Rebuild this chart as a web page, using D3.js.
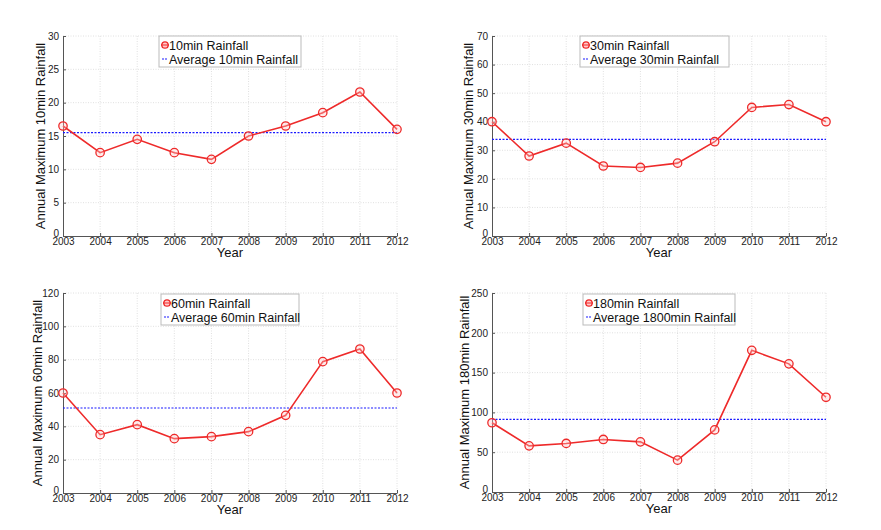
<!DOCTYPE html>
<html>
<head>
<meta charset="utf-8">
<script src="https://cdn.jsdelivr.net/npm/d3@7"></script>
<style>
  html, body { margin: 0; padding: 0; background: #fff; }
  svg { display: block; font-family: "Liberation Sans", Arial, sans-serif; }
</style>
</head>
<body>
<svg id="chart" width="881" height="530"></svg>
<script>
// ---- data ----
const years = [2003, 2004, 2005, 2006, 2007, 2008, 2009, 2010, 2011, 2012];
const rain10 = [16.5, 12.5, 14.5, 12.5, 11.5, 15.0, 16.5, 18.5, 21.6, 16.0];
const rain30 = [40, 28, 32.5, 24.5, 24, 25.5, 33, 45, 46, 40];
const rain60 = [60, 35, 41, 32.6, 33.8, 36.8, 46.6, 78.8, 86.4, 60];
const rain180 = [87, 58, 61, 66, 63, 40, 78, 178, 161, 119];
const averages = [15.5, 33.8, 51, 91.3];
const yMaxes = [30, 70, 120, 250];
const yTickSteps = [5, 10, 20, 50];
const seriesNames = ["10min Rainfall", "30min Rainfall", "60min Rainfall", "180min Rainfall"];
const avgNames = ["Average 10min Rainfall", "Average 30min Rainfall", "Average 60min Rainfall", "Average 1800min Rainfall"];
const yLabels = ["Annual Maximum 10min Rainfall", "Annual Maximum 30min Rainfall", "Annual Maximum 60min Rainfall", "Annual Maximum 180min Rainfall"];
const xLabel = "Year";
const allSeries = [rain10, rain30, rain60, rain180];

// ---- layout ----
const panels = [
  { left: 63,  right: 397, top: 36,  bottom: 236, ylabX: 45,  leg: [159, 36, 142, 31] },
  { left: 492, right: 826, top: 36,  bottom: 236, ylabX: 473, leg: [580, 36, 149, 31] },
  { left: 63,  right: 397, top: 293, bottom: 493, ylabX: 42,  leg: [161, 294, 138, 31] },
  { left: 492, right: 826, top: 293, bottom: 492, ylabX: 469, leg: [583, 294, 152, 31] }
];

const svg = d3.select("#chart");
const red = "#ee2a2a";
const blue = "#1a1aff";

panels.forEach((p, i) => {
  const g = svg.append("g");
  const x = d3.scaleLinear().domain([years[0], years[years.length - 1]]).range([p.left, p.right]);
  const y = d3.scaleLinear().domain([0, yMaxes[i]]).range([p.bottom, p.top]);
  const yTicks = d3.range(0, yMaxes[i] + 0.001, yTickSteps[i]);

  // grid
  g.append("g").selectAll("line.vg").data(years.slice(1)).join("line")
    .attr("x1", d => x(d)).attr("x2", d => x(d))
    .attr("y1", p.top).attr("y2", p.bottom)
    .attr("stroke", "#d8d8d8").attr("stroke-width", 0.8).attr("stroke-dasharray", "1,1.5");
  g.append("g").selectAll("line.hg").data(yTicks.slice(1)).join("line")
    .attr("x1", p.left).attr("x2", p.right)
    .attr("y1", d => y(d)).attr("y2", d => y(d))
    .attr("stroke", "#d8d8d8").attr("stroke-width", 0.8).attr("stroke-dasharray", "1,1.5");

  // axes
  const xAxis = d3.axisBottom(x).tickValues(years).tickFormat(d3.format("d")).tickSizeInner(-3).tickSizeOuter(0).tickPadding(2);
  const gx = g.append("g").attr("transform", `translate(0,${p.bottom})`).call(xAxis);
  const yAxis = d3.axisLeft(y).tickValues(yTicks).tickFormat(d3.format("d")).tickSizeInner(-3).tickSizeOuter(0).tickPadding(4);
  const gy = g.append("g").attr("transform", `translate(${p.left},0)`).call(yAxis);
  [gx, gy].forEach(a => {
    a.select(".domain").attr("stroke", "#555").attr("stroke-width", 1);
    a.selectAll(".tick line").attr("stroke", "#555");
    a.selectAll(".tick text").attr("fill", "#222").style("font-size", "10px").style("font-family", "'Liberation Sans', Arial, sans-serif");
  });
  // zero label sits slightly above the x axis, as in the reference
  gy.selectAll(".tick").filter(d => d === 0).select("text").attr("dy", "0.05em");

  // axis labels
  g.append("text").attr("x", (p.left + p.right) / 2).attr("y", p.bottom + 21)
    .attr("text-anchor", "middle").attr("font-size", "13px").attr("fill", "#111").text(xLabel);
  g.append("text")
    .attr("transform", `translate(${p.ylabX},${(p.top + p.bottom) / 2}) rotate(-90)`)
    .attr("text-anchor", "middle").attr("font-size", "13px").attr("fill", "#111").text(yLabels[i]);

  // average line
  g.append("line")
    .attr("x1", x(years[0])).attr("x2", x(years[years.length - 1]))
    .attr("y1", y(averages[i])).attr("y2", y(averages[i]))
    .attr("stroke", blue).attr("stroke-width", 1.2).attr("stroke-dasharray", "2,1.5");

  // series line
  const data = years.map((yr, k) => [yr, allSeries[i][k]]);
  g.append("path").datum(data)
    .attr("d", d3.line().x(d => x(d[0])).y(d => y(d[1])))
    .attr("fill", "none").attr("stroke", red).attr("stroke-width", 1.6);
  g.append("g").selectAll("circle").data(data).join("circle")
    .attr("cx", d => x(d[0])).attr("cy", d => y(d[1])).attr("r", 4.2)
    .attr("fill", "rgba(255,200,200,0.35)").attr("stroke", red).attr("stroke-width", 1.3);

  // legend
  const [lx, ly, lw, lh] = p.leg;
  const lg = g.append("g");
  lg.append("rect").attr("x", lx).attr("y", ly).attr("width", lw).attr("height", lh)
    .attr("fill", "#fff").attr("stroke", "#bbb").attr("stroke-width", 1);
  const r1 = ly + 9, r2 = ly + 23;
  lg.append("line").attr("x1", lx + 2).attr("x2", lx + 10).attr("y1", r1).attr("y2", r1)
    .attr("stroke", red).attr("stroke-width", 1.5);
  lg.append("circle").attr("cx", lx + 6).attr("cy", r1).attr("r", 3.2)
    .attr("fill", "rgba(255,150,150,0.5)").attr("stroke", red).attr("stroke-width", 1.3);
  lg.append("text").attr("x", lx + 10).attr("y", r1 + 4.5).attr("font-size", "12.5px").attr("fill", "#111").text(seriesNames[i]);
  lg.append("line").attr("x1", lx + 3).attr("x2", lx + 9).attr("y1", r2).attr("y2", r2)
    .attr("stroke", blue).attr("stroke-width", 1.2).attr("stroke-dasharray", "2,1");
  lg.append("text").attr("x", lx + 10).attr("y", r2 + 4.5).attr("font-size", "12.5px").attr("fill", "#111").text(avgNames[i]);
});
</script>
</body>
</html>
